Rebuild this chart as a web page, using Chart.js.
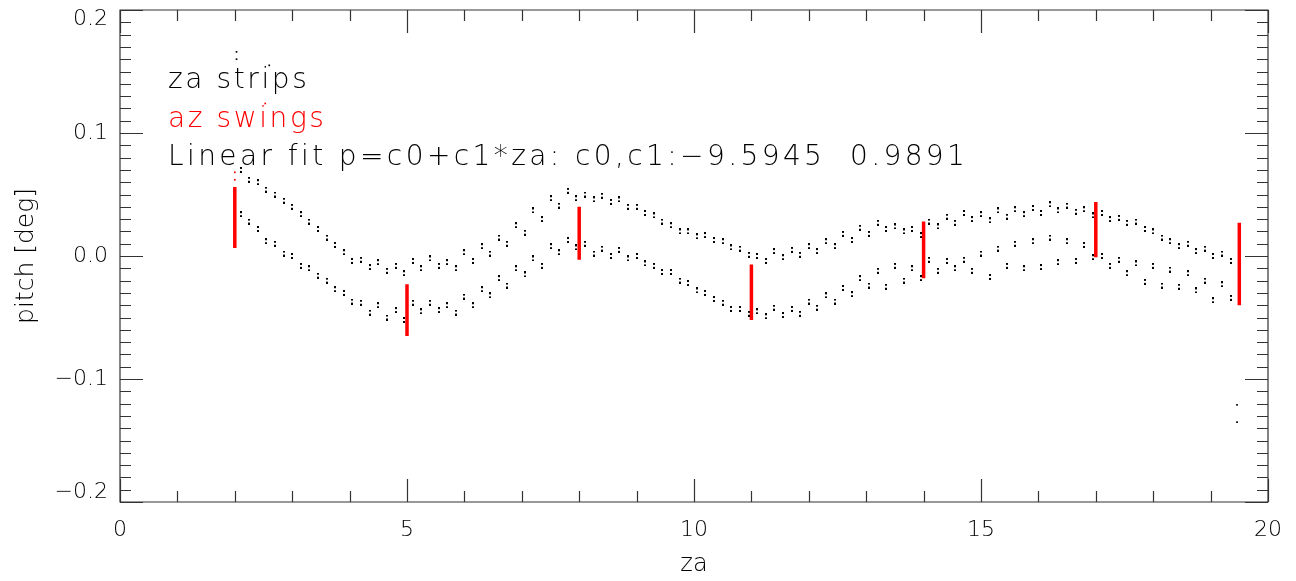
<!DOCTYPE html>
<html lang="en">
<head>
<meta charset="UTF-8">
<title>pitch vs za</title>
<style>
    body { margin: 0; background: #fff; }
    #wrap { width: 1296px; height: 581px; }
</style>
</head>
<body>
<div id="wrap"><canvas id="chart" width="1296" height="581"></canvas></div>

<script src="https://cdn.jsdelivr.net/npm/chart.js"></script>
<script>
    // za strips: two bands, each scanned twice (A/B passes)
    const zaA = [2.1, 2.4, 2.7, 3.0, 3.3, 3.6, 3.9, 4.2, 4.5, 4.8, 5.1, 5.4, 5.7, 6.0, 6.3, 6.6, 6.9, 7.2, 7.5, 7.8,
                 8.1, 8.4, 8.7, 9.0, 9.3, 9.6, 9.9, 10.2, 10.5, 10.8, 11.1, 11.4, 11.7, 12.0, 12.3, 12.6, 12.9, 13.2,
                 13.5, 13.8, 14.1, 14.4, 14.7, 15.0, 15.3, 15.6, 15.9, 16.2, 16.5, 16.8, 17.1, 17.4, 17.7, 18.0,
                 18.3, 18.6, 18.9, 19.2];
    const zaB = [2.25, 2.55, 2.85, 3.15, 3.45, 3.75, 4.05, 4.35, 4.65, 4.95, 5.25, 5.55, 5.85, 6.15, 6.45, 6.75,
                 7.05, 7.35, 7.65, 7.95, 8.25, 8.55, 8.85, 9.15, 9.45, 9.75, 10.05, 10.35, 10.65, 10.95, 11.25,
                 11.55, 11.85, 12.15, 12.45, 12.75, 13.05, 13.35, 13.65, 13.95, 14.25, 14.55, 14.85, 15.15, 15.45,
                 15.75, 16.05, 16.35, 16.65, 16.95, 17.25, 17.55, 17.85, 18.15, 18.45, 18.75, 19.05, 19.35];

    const upperA = [0.070, 0.060, 0.050, 0.040, 0.028, 0.015, 0.003, -0.003, -0.005, -0.008, -0.004, -0.002, -0.005,
                    0.003, 0.008, 0.015, 0.025, 0.037, 0.047, 0.053, 0.050, 0.049, 0.046, 0.040, 0.033, 0.025, 0.020,
                    0.017, 0.012, 0.006, 0.000, 0.004, 0.005, 0.008, 0.012, 0.018, 0.023, 0.027, 0.024, 0.022, 0.028,
                    0.032, 0.035, 0.034, 0.037, 0.038, 0.039, 0.042, 0.041, 0.038, 0.035, 0.031, 0.028, 0.020, 0.012,
                    0.010, 0.006, 0.002];
    const upperB = [0.062, 0.054, 0.045, 0.034, 0.022, 0.009, -0.004, -0.009, -0.012, -0.014, -0.010, -0.008, -0.010,
                    -0.004, 0.002, 0.010, 0.019, 0.030, 0.041, 0.047, 0.046, 0.044, 0.040, 0.035, 0.028, 0.020, 0.016,
                    0.013, 0.007, 0.001, -0.004, -0.001, 0.001, 0.004, 0.008, 0.013, 0.018, 0.022, 0.020, 0.017, 0.024,
                    0.027, 0.030, 0.029, 0.032, 0.034, 0.035, 0.037, 0.036, 0.033, 0.030, 0.027, 0.022, 0.015, 0.008,
                    0.004, 0.000, -0.004];
    const lowerA = [0.034, 0.022, 0.010, 0.000, -0.010, -0.020, -0.030, -0.038, -0.040, -0.044, -0.038, -0.038, -0.040,
                    -0.033, -0.027, -0.018, -0.010, -0.002, 0.008, 0.013, 0.010, 0.006, 0.005, 0.000, -0.008, -0.013,
                    -0.022, -0.030, -0.038, -0.043, -0.045, -0.042, -0.043, -0.037, -0.032, -0.026, -0.018, -0.012,
                    -0.008, -0.010, -0.003, -0.004, -0.003, 0.002, 0.006, 0.010, 0.012, 0.015, 0.012, 0.009, 0.000,
                    -0.003, -0.006, -0.008, -0.011, -0.014, -0.020, -0.023];
    const lowerB = [0.028, 0.012, 0.002, -0.008, -0.016, -0.027, -0.037, -0.046, -0.050, -0.052, -0.045, -0.044, -0.046,
                    -0.040, -0.032, -0.024, -0.015, -0.008, 0.003, 0.007, 0.002, 0.000, -0.002, -0.006, -0.013, -0.020,
                    -0.028, -0.035, -0.043, -0.047, -0.049, -0.048, -0.047, -0.042, -0.037, -0.031, -0.024, -0.025,
                    -0.020, -0.018, -0.012, -0.010, -0.012, -0.017, -0.008, -0.010, -0.009, -0.005, -0.004, -0.001,
                    -0.008, -0.014, -0.021, -0.024, -0.025, -0.028, -0.036, -0.034];

    // stray strip samples
    const strayZa = [2.03, 2.03, 2.6, 19.46, 19.46];
    const strayPitch = [0.166, 0.160, 0.155, -0.121, -0.135];

    // az swings: pitch range covered at each za
    const swingZa = [2, 5, 8, 11, 14, 17, 19.5];
    const swingTop = [0.056, -0.023, 0.040, -0.007, 0.028, 0.044, 0.027];
    const swingBottom = [0.0065, -0.065, -0.003, -0.052, -0.018, -0.001, -0.040];
    const swingStrayZa = [2.0, 2.0, 2.53];
    const swingStrayPitch = [0.068, 0.062, 0.124];

    // edge labels sit inside the frame: pad them with an empty line
    const yTickLabels = {
        '0.2': ['', '0.2'],
        '0.1': '0.1',
        '0': '0.0',
        '-0.1': '\u22120.1',
        '-0.2': ['\u22120.2', '']
    };
    const fitText = 'Linear fit p=c0+c1*za: c0,c1:\u22129.5945  0.9891';

    const thin = { family: '"DejaVu Sans", sans-serif', weight: 200 };

    // build points
    function pts(xs, ys) { return xs.map((x, i) => ({ x: x, y: ys[i] })); }
    const stripPoints = [].concat(pts(zaA, upperA), pts(zaB, upperB), pts(zaA, lowerA), pts(zaB, lowerB));
    const swingPoints = [];
    swingZa.forEach((z, i) => {
        swingPoints.push({ x: z, y: swingTop[i] }, { x: z, y: swingBottom[i] }, { x: z, y: null });
    });

    // two stacked dots, the plot symbol of the strips
    const dotPair = document.createElement('canvas');
    dotPair.width = 2; dotPair.height = 6;
    const dctx = dotPair.getContext('2d');
    dctx.fillStyle = '#000';
    dctx.fillRect(0, 0, 2, 2);
    dctx.fillRect(0, 4, 2, 2);

    // box frame with inward major/minor ticks on all four sides
    const frameTicks = {
        id: 'frameTicks',
        afterDraw(chart) {
            const { ctx, chartArea: a, scales: { x, y } } = chart;
            ctx.save();
            ctx.strokeStyle = '#333';
            ctx.lineWidth = 1.2;
            ctx.beginPath();
            ctx.rect(a.left, a.top, a.right - a.left, a.bottom - a.top);
            for (let v = 0; v <= 20; v++) {
                const px = Math.round(x.getPixelForValue(v)) + 0.5;
                const len = v % 5 === 0 ? 23 : 11;
                ctx.moveTo(px, a.bottom); ctx.lineTo(px, a.bottom - len);
                ctx.moveTo(px, a.top); ctx.lineTo(px, a.top + len);
            }
            for (let k = -20; k <= 20; k++) {
                const py = Math.round(y.getPixelForValue(k / 100)) + 0.5;
                const len = k % 10 === 0 ? 23 : 11;
                ctx.moveTo(a.left, py); ctx.lineTo(a.left + len, py);
                ctx.moveTo(a.right, py); ctx.lineTo(a.right - len, py);
            }
            ctx.stroke();
            ctx.restore();
        }
    };

    // text key in the upper left
    const keyText = {
        id: 'keyText',
        afterDraw(chart) {
            const ctx = chart.ctx;
            ctx.save();
            ctx.font = '200 28px "DejaVu Sans", sans-serif';
            ctx.letterSpacing = '2.6px';
            ctx.textBaseline = 'alphabetic';
            ctx.fillStyle = '#000';
            ctx.fillText('za strips', 168, 88);
            ctx.fillStyle = '#ff0000';
            ctx.fillText('az swings', 168, 127);
            ctx.fillStyle = '#000';
            ctx.letterSpacing = '3.4px';
            ctx.fillText(fitText, 168, 165);
            ctx.restore();
        }
    };

    new Chart(document.getElementById('chart').getContext('2d'), {
        type: 'scatter',
        data: {
            datasets: [
                {
                    label: 'za strips',
                    data: stripPoints,
                    pointStyle: dotPair,
                    pointRadius: 2,
                    backgroundColor: '#000',
                    borderWidth: 0
                },
                {
                    label: 'za strips stray',
                    data: pts(strayZa, strayPitch),
                    pointStyle: 'rect',
                    pointRadius: 1.2,
                    backgroundColor: '#000',
                    borderWidth: 0
                },
                {
                    label: 'az swings',
                    type: 'line',
                    data: swingPoints,
                    borderColor: '#ff0000',
                    borderWidth: 3.5,
                    borderCapStyle: 'butt',
                    pointRadius: 0,
                    spanGaps: false,
                    fill: false
                },
                {
                    label: 'az swings stray',
                    data: pts(swingStrayZa, swingStrayPitch),
                    pointStyle: 'rect',
                    pointRadius: 1.2,
                    backgroundColor: '#ff0000',
                    borderWidth: 0
                }
            ]
        },
        options: {
            responsive: false,
            devicePixelRatio: 1,
            animation: false,
            layout: { padding: { left: 0, right: 28, top: 10, bottom: 0 } },
            plugins: { legend: { display: false }, tooltip: { enabled: false } },
            scales: {
                x: {
                    type: 'linear',
                    min: 0,
                    max: 20,
                    grid: { display: false, drawTicks: false },
                    border: { display: false },
                    ticks: {
                        stepSize: 5,
                        padding: 15,
                        color: '#000',
                        font: Object.assign({ size: 22 }, thin)
                    },
                    title: {
                        display: true,
                        text: 'za',
                        color: '#000',
                        font: Object.assign({ size: 24 }, thin),
                        padding: { top: 0, bottom: 2 }
                    },
                    afterFit(s) { s.height = 79; s.paddingLeft = 0; s.paddingRight = 0; }
                },
                y: {
                    type: 'linear',
                    min: -0.2,
                    max: 0.2,
                    grid: { display: false, drawTicks: false },
                    border: { display: false },
                    ticks: {
                        stepSize: 0.1,
                        padding: 12,
                        color: '#000',
                        font: Object.assign({ size: 22, lineHeight: 0.85 }, thin),
                        callback: v => yTickLabels[String(Math.round(v * 10) / 10)]
                    },
                    title: {
                        display: true,
                        text: 'pitch [deg]',
                        color: '#000',
                        font: Object.assign({ size: 25 }, thin),
                        padding: { top: 11, bottom: 0 }
                    },
                    afterFit(s) { s.width = 120; s.paddingTop = 0; s.paddingBottom = 0; }
                }
            }
        },
        plugins: [frameTicks, keyText]
    });
</script>
</body>
</html>
